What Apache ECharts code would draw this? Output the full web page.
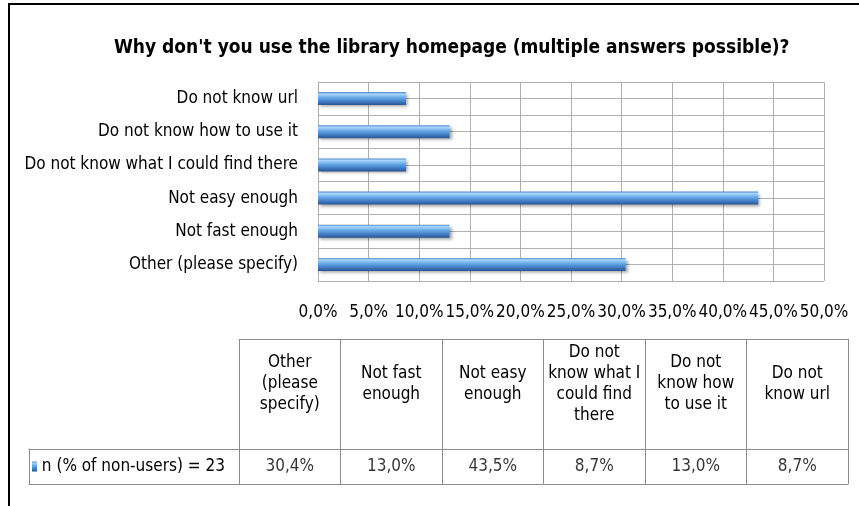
<!DOCTYPE html>
<html>
<head>
<meta charset="utf-8">
<title>Why don't you use the library homepage</title>
<script src="https://cdn.jsdelivr.net/npm/echarts@6/dist/echarts.min.js"></script>
<style>
html, body { margin: 0; padding: 0; background: #fff; }
#wrap { position: relative; width: 859px; height: 506px; overflow: hidden; }
#chart { position: absolute; left: 0; top: 0; width: 859px; height: 506px; }
/* black frame of the copied chart object */
#frame { position: absolute; left: 8px; top: 3px; width: 900px; height: 600px;
         border-left: 2px solid #000; border-top: 2px solid #000; pointer-events: none; }
</style>
</head>
<body>
<div id="wrap">
  <div id="chart"></div>
  <div id="frame"></div>
</div>
<script>
// data (bottom to top on the chart, left to right in the table)
var categories = ['Other (please specify)', 'Not fast enough', 'Not easy enough',
  'Do not know what I could find there', 'Do not know how to use it', 'Do not know url'];
var values = [30.4, 13.0, 43.5, 8.7, 13.0, 8.7];
var headerLabels = ['Other\n(please\nspecify)', 'Not fast\nenough', 'Not easy\nenough',
  'Do not\nknow what I\ncould find\nthere', 'Do not\nknow how\nto use it', 'Do not\nknow url'];
var seriesName = 'n (% of non-users) = 23';
var title = "Why don't you use the library homepage (multiple answers possible)?";
// half-band rows, only used for the Excel style grid lines
var subRows = ['a1', 'a2', 'b1', 'b2', 'c1', 'c2', 'd1', 'd2', 'e1', 'e2', 'f1', 'f2'];

var FONT = "'Liberation Sans Narrow', 'DejaVu Sans Condensed', sans-serif";
var gridColor = '#b0b0b0';
var tableColor = '#8c8c8c';

function pct(v) {
  return v.toFixed(1).replace('.', ',') + '%';
}

var barColor = new echarts.graphic.LinearGradient(0, 0, 0, 1, [
  { offset: 0, color: '#4f88cc' },
  { offset: 0.15, color: '#a9d6fc' },
  { offset: 0.4, color: '#6cade9' },
  { offset: 0.75, color: '#3f7ac4' },
  { offset: 1, color: '#2a538e' }
]);

var chart = echarts.init(document.getElementById('chart'));
var option = {
  animation: false,
  textStyle: { fontFamily: FONT, color: '#000' },
  title: {
    text: title,
    left: 109,
    top: 34,
    textStyle: { fontFamily: FONT, fontSize: 19, fontWeight: 'bold', color: '#000' }
  },
  grid: [
    { left: 318, right: 35, top: 82, bottom: 225 },      // bar plot
    { left: 239, right: 11, top: 339, height: 110 },     // table header
    { left: 239, right: 11, top: 449, height: 35 },      // table values
    { left: 29, width: 210, top: 449, height: 35 }       // table row label
  ],
  xAxis: [
    {
      gridIndex: 0, type: 'value', min: 0, max: 50, interval: 5,
      axisLine: { show: false }, axisTick: { show: false },
      axisLabel: { formatter: pct, margin: 23, fontSize: 17, color: '#000' },
      splitLine: { lineStyle: { color: gridColor } }
    },
    {
      gridIndex: 1, type: 'category', data: headerLabels, position: 'top',
      axisLine: { onZero: false, lineStyle: { color: tableColor } }, axisTick: { show: false },
      axisLabel: { inside: true, margin: 45, verticalAlign: 'middle', fontSize: 17,
        lineHeight: 21, color: '#000', interval: 0 },
      splitLine: { show: true, interval: 0, lineStyle: { color: tableColor } }
    },
    {
      gridIndex: 2, type: 'category', data: categories,
      axisLine: { onZero: false, lineStyle: { color: tableColor } }, axisTick: { show: false },
      axisLabel: { show: false, interval: 0 },
      splitLine: { show: true, interval: 0, lineStyle: { color: tableColor } }
    },
    {
      gridIndex: 2, type: 'category', data: categories, position: 'top',
      axisLine: { onZero: false, lineStyle: { color: tableColor } }, axisTick: { show: false },
      axisLabel: { show: false }
    },
    {
      gridIndex: 3, type: 'category', data: [seriesName],
      axisLine: { onZero: false, lineStyle: { color: tableColor } }, axisTick: { show: false },
      axisLabel: { show: false }
    },
    {
      gridIndex: 3, type: 'category', data: [seriesName], position: 'top',
      axisLine: { onZero: false, lineStyle: { color: tableColor } }, axisTick: { show: false },
      axisLabel: { show: false }
    }
  ],
  yAxis: [
    {
      gridIndex: 0, type: 'category', data: categories,
      axisLine: { lineStyle: { color: gridColor } }, axisTick: { show: false },
      axisLabel: { margin: 20, fontSize: 17, color: '#000' }
    },
    {
      gridIndex: 0, type: 'category', data: subRows, position: 'left',
      axisLine: { show: false }, axisTick: { show: false }, axisLabel: { show: false },
      splitLine: { show: true, interval: 0, lineStyle: { color: gridColor } }
    },
    {
      gridIndex: 1, type: 'category', data: ['header'],
      axisLine: { show: false }, axisTick: { show: false }, axisLabel: { show: false }
    },
    {
      gridIndex: 2, type: 'category', data: [seriesName],
      axisLine: { show: false }, axisTick: { show: false }, axisLabel: { show: false }
    },
    {
      gridIndex: 3, type: 'category', data: [seriesName],
      axisLine: { onZero: false, lineStyle: { color: tableColor } }, axisTick: { show: false },
      axisLabel: {
        inside: true, margin: 3, align: 'left', fontSize: 17, color: '#000',
        formatter: function (v) { return '{k|} ' + v; },
        rich: { k: { width: 5, height: 10, backgroundColor: barColor } }
      }
    }
  ],
  series: [
    {
      name: seriesName, type: 'bar', xAxisIndex: 0, yAxisIndex: 0,
      barWidth: 13, data: values,
      itemStyle: {
        color: barColor,
        shadowColor: 'rgba(0,0,0,0.35)', shadowBlur: 3, shadowOffsetX: 2, shadowOffsetY: 2
      }
    },
    {
      name: seriesName, type: 'scatter', xAxisIndex: 2, yAxisIndex: 3,
      symbolSize: 1, itemStyle: { color: 'rgba(0,0,0,0)' },
      data: values.map(function (v, i) { return [categories[i], seriesName, v]; }),
      label: {
        show: true, position: 'inside', fontSize: 17, color: '#000',
        formatter: function (p) { return pct(p.value[2]); }
      }
    }
  ]
};
chart.setOption(option);
</script>
</body>
</html>
